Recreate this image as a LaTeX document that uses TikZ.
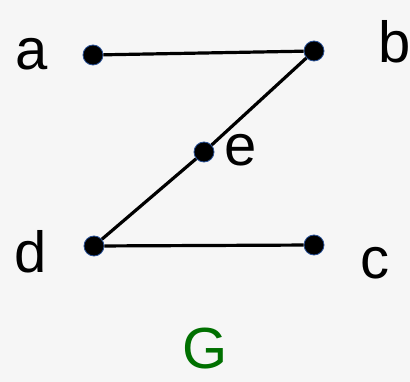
\documentclass[tikz,border=0pt]{standalone}
\usepackage{fontspec}
\setmainfont{Liberation Sans}
\usepackage{tikz}
\usetikzlibrary{positioning}
\definecolor{hatter}{RGB}{246,246,246}
\definecolor{zold}{RGB}{0,112,0}
\definecolor{szegely}{RGB}{40,80,150}
\tikzset{
  csp/.style={circle,fill=black,draw=szegely,line width=0.8pt,minimum size=20pt,inner sep=0pt},
  el/.style={line width=3.2pt},
  cimke/.style={inner sep=0pt,font=\fontsize{58}{62}\selectfont},
}

\begin{document}
\begin{tikzpicture}[x=1pt,y=-1pt]
  \fill[hatter] (0,0) rectangle (410,382);
  \useasboundingbox (0,0) rectangle (410,382);
  \node[csp] (a) at (93,55) {};
  \node[csp] (b) at (314,51) {};
  \node[csp] (e) at (204,152) {};
  \node[csp] (d) at (94,246) {};
  \node[csp] (c) at (314,245) {};
  \draw[el] (a) -- (b);
  \draw[el] (b) -- (e) -- (d);
  \draw[el] (d) -- (c);
  \node[cimke] (la) at (32,54) {a};
  \node[cimke] (lb) at (395,42) {b};
  \node[cimke] (le) at (241,150) {e};
  \node[cimke] (ld) at (31,252) {d};
  \node[cimke] (lc) at (375,263) {c};
  \node[cimke,text=zold] (g) at (205,349) {G};
\end{tikzpicture}
\end{document}
